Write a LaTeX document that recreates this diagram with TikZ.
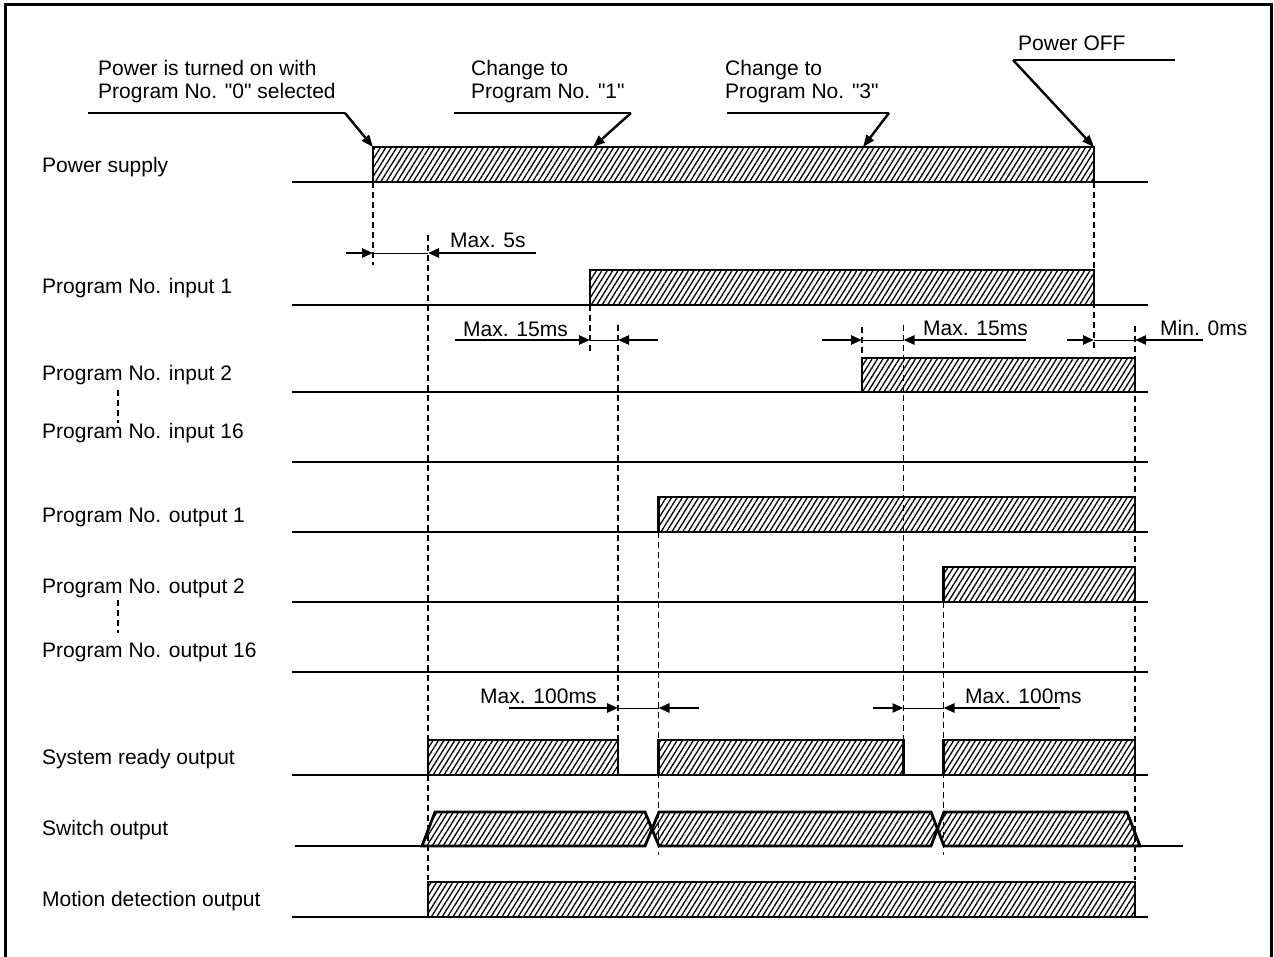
\documentclass[tikz,border=0pt]{standalone}
\usepackage{fontspec}
\setmainfont{Liberation Sans}[Ligatures=TeXOff]
\usetikzlibrary{arrows.meta,patterns.meta}
\tikzset{
  sig/.style={line width=2.6pt},
  hbox/.style={line width=2.8pt, line join=miter, pattern={Lines[angle=58,distance=4.6pt,line width=1.3pt]}},
  dline/.style={line width=1.2pt, dash pattern=on 6pt off 4pt},
  lbl/.style={anchor=base west, inner sep=0pt, font=\fontsize{21}{25}\selectfont},
  dimarr/.style={line width=2.6pt, -{Triangle[length=11pt,width=9pt]}},
  thinln/.style={line width=1pt},
  lead/.style={line width=1.4pt},
  leadarr/.style={line width=2.4pt, -{Triangle[length=12pt,width=9pt]}},
}
\begin{document}
\begin{tikzpicture}[x=1pt,y=-1pt]
\useasboundingbox (0,0) rectangle (1274,956);
% frame
\draw[line width=3pt] (5,960) -- (5,4) -- (1271,4) -- (1271,960);

% labels
\node[lbl] (l1) at (42,172) {Power supply};
\node[lbl] (l2) at (42,293) {Program No. input 1};
\node[lbl] (l3) at (42,380) {Program No. input 2};
\node[lbl] (l4) at (42,438) {Program No. input 16};
\node[lbl] (l5) at (42,522) {Program No. output 1};
\node[lbl] (l6) at (42,593) {Program No. output 2};
\node[lbl] (l7) at (42,657) {Program No. output 16};
\node[lbl] (l8) at (42,764) {System ready output};
\node[lbl] (l9) at (42,835) {Switch output};
\node[lbl] (l10) at (42,906) {Motion detection output};
\draw[dline] (118,390) -- (118,423);
\draw[dline] (118,600) -- (118,633);

% baselines
\foreach \y in {182,305,392,462,532,602,672,775,917}
  \draw[sig] (292,\y) -- (1148,\y);

% hatched boxes
\draw[hbox] (373,147) rectangle (1094,182);
\draw[hbox] (590,270) rectangle (1094,305);
\draw[hbox] (862,358) rectangle (1135,392);
\draw[hbox] (658.5,497) rectangle (1135,532);
\draw[hbox] (943.5,567) rectangle (1135,602);
\draw[hbox] (428,740) rectangle (618,775);
\draw[hbox] (658.5,740) rectangle (903.5,775);
\draw[hbox] (943.5,740) rectangle (1135,775);
\draw[hbox] (428,882) rectangle (1135,917);

% switch output
\draw[sig] (295,846) -- (422,846);
\draw[sig] (1140,846) -- (1183,846);
\draw[hbox] (422,846) -- (435,812) -- (645,812) -- (652,829) -- (645,846) -- cycle;
\draw[hbox] (652,829) -- (659,812) -- (931,812) -- (937.5,829) -- (931,846) -- (659,846) -- cycle;
\draw[hbox] (937.5,829) -- (944,812) -- (1127,812) -- (1140,846) -- (944,846) -- cycle;

% dashed timing lines
\draw[dline] (373,182) -- (373,265);
\draw[dline] (428,235) -- (428,880);
\draw[dline] (590,305) -- (590,353);
\draw[dline] (618,325) -- (618,740);
\draw[dline] (658.5,532) -- (658.5,855);
\draw[dline] (862,327) -- (862,358);
\draw[dline] (903.5,325) -- (903.5,740);
\draw[dline] (943.5,602) -- (943.5,855);
\draw[dline] (1094,182) -- (1094,352);
\draw[dline] (1135,326) -- (1135,880);

% dimension arrows
\draw[dimarr] (346,253) -- (373,253);
\draw[thinln] (373,253) -- (428,253);
\draw[dimarr] (536,253) -- (428,253);
\node[lbl] (t1) at (450,247) {Max. 5s};

\draw[dimarr] (455,340) -- (590,340);
\draw[thinln] (590,340) -- (618,340);
\draw[dimarr] (658,340) -- (618,340);
\node[lbl] (t2) at (463,336) {Max. 15ms};

\draw[dimarr] (822,340) -- (862,340);
\draw[thinln] (862,340) -- (903.5,340);
\draw[dimarr] (1026,340) -- (903.5,340);
\node[lbl] (t3) at (923,335) {Max. 15ms};

\draw[dimarr] (1067,340) -- (1094,340);
\draw[thinln] (1094,340) -- (1135,340);
\draw[dimarr] (1203,340) -- (1135,340);
\node[lbl] (t4) at (1160,335) {Min. 0ms};

\draw[dimarr] (509,708) -- (618,708);
\draw[thinln] (618,708) -- (658.5,708);
\draw[dimarr] (699,708) -- (658.5,708);
\node[lbl] (t5) at (480,703) {Max. 100ms};

\draw[dimarr] (873,708) -- (903.5,708);
\draw[thinln] (903.5,708) -- (943.5,708);
\draw[dimarr] (1060,708) -- (943.5,708);
\node[lbl] (t6) at (965,703) {Max. 100ms};

% annotations
\node[lbl] (a1) at (98,75) {Power is turned on with};
\node[lbl] (a2) at (98,98) {Program No. "0" selected};
\draw[lead] (88,113) -- (345,113);
\draw[leadarr] (345,113) -- (373,147);

\node[lbl] (b1) at (471,75) {Change to};
\node[lbl] (b2) at (471,98) {Program No. "1"};
\draw[lead] (454,113) -- (631,113);
\draw[leadarr] (631,113) -- (593,147);

\node[lbl] (c1) at (725,75) {Change to};
\node[lbl] (c2) at (725,98) {Program No. "3"};
\draw[lead] (727,113) -- (889,113);
\draw[leadarr] (889,113) -- (863,147);

\node[lbl] (d1) at (1018,50) {Power OFF};
\draw[lead] (1013,60) -- (1175,60);
\draw[leadarr] (1013,60) -- (1094,147);
\end{tikzpicture}
\end{document}
